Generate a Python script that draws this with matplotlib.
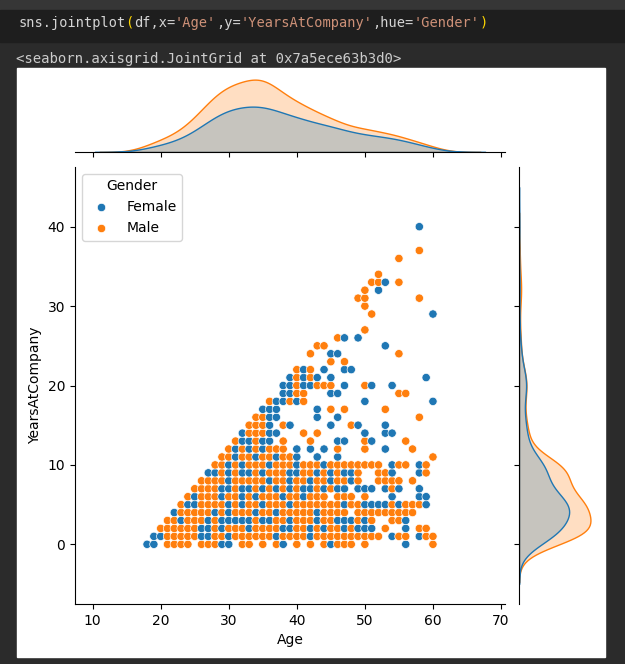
import matplotlib
matplotlib.use('agg')
import matplotlib.pyplot as plt
from matplotlib.patches import Rectangle
import numpy as np
import pandas as pd
import seaborn as sns

W, H = 625, 664

# notebook cell text
code_parts = ["sns.jointplot", "(", "df,x=", "'Age'", ",y=", "'YearsAtCompany'",
              ",hue=", "'Gender'", ")"]
code_colors = ['#d4d4d4', '#ffd700', '#d4d4d4', '#ce9178', '#d4d4d4', '#ce9178',
               '#d4d4d4', '#ce9178', '#ffd700']
out_text = "<seaborn.axisgrid.JointGrid at 0x7a5ece63b3d0>"

hue_levels = ['Female', 'Male']

# marginal counts (age 18..60)
age_values = list(range(18, 61))
female_age_counts = [3, 3, 4, 5, 6, 5, 9, 10, 15, 18, 18, 27, 24, 27, 24, 23, 30, 28, 27, 20, 23, 17,
                     24, 16, 19, 13, 14, 18, 15, 11, 8, 10, 13, 8, 8, 8, 8, 10, 6, 2, 6, 4, 2]
male_age_counts = [5, 6, 7, 8, 10, 9, 17, 16, 24, 30, 30, 41, 36, 42, 37, 35, 47, 50, 42, 30, 35, 25,
                   33, 24, 27, 19, 19, 23, 18, 13, 11, 14, 17, 11, 10, 11, 10, 12, 8, 2, 8, 6, 3]

# marginal counts (years at company 0..40)
years_values = list(range(0, 41))
female_years_counts = [16, 58, 48, 51, 50, 88, 30, 35, 28, 30, 44, 14, 7, 11, 8, 9, 6, 4, 6, 5, 14,
                       7, 7, 1, 3, 2, 2, 0, 0, 1, 0, 0, 1, 1, 0, 0, 0, 0, 0, 0, 1]
male_years_counts = [28, 113, 79, 77, 60, 108, 46, 55, 52, 52, 76, 18, 7, 13, 10, 11, 6, 5, 7, 6, 13,
                     7, 8, 1, 3, 2, 2, 2, 0, 1, 1, 3, 2, 4, 1, 0, 2, 1, 0, 0, 0]

# scatter cells: ages present for each YearsAtCompany value (index = years)
female_by_year = [
    [18, 19, 29, 30, 38, 45, 56],
    [19, 20, 26, 27, 30, 37, 42, 54, 58],
    [26, 27, 29, 33, 38, 39, 42, 44, 47, 49, 50, 51, 56],
    [23, 27, 29, 30, 31, 32, 33, 35, 36, 39, 43, 46, 47, 48, 50, 56],
    [22, 28, 30, 34, 37, 43],
    [24, 25, 30, 32, 35, 39, 47, 50, 51, 52, 53, 55, 59],
    [25, 29, 32, 34, 38, 41, 54, 58, 59],
    [29, 30, 32, 33, 35, 37, 39, 41, 42, 44, 46, 47, 49, 50, 51, 53, 55, 58],
    [30, 36, 39, 42, 45, 48],
    [27, 28, 30, 32, 33, 35, 39, 40, 43, 45, 47, 48, 54, 58],
    [30, 32, 36, 40, 44, 54, 58],
    [31, 34, 37, 40, 43, 46],
    [31, 33, 35, 40, 42, 44, 53],
    [32, 33, 35, 36, 46, 47, 51],
    [32, 36, 37, 50, 53, 54],
    [36, 39, 45, 49, 53],
    [36, 37, 43, 46],
    [35, 36, 37, 43],
    [37, 38, 40, 50, 60],
    [38, 39, 45, 46],
    [38, 39, 41, 42, 47, 51, 54],
    [39, 41, 43, 45, 59],
    [41, 44, 47, 48],
    [],
    [45, 46],
    [53],
    [47, 49],
    [],
    [],
    [60],
    [],
    [],
    [52],
    [53],
    [],
    [],
    [],
    [],
    [],
    [],
    [58],
]
male_by_year = [
    [21, 22, 23, 24, 26, 27, 28, 32, 33, 35, 37, 40, 42, 44, 46, 47, 48, 50, 60],
    [21, 22, 23, 24, 25, 28, 29, 31, 32, 33, 34, 35, 36, 38, 39, 40, 41, 43, 44, 45, 46, 47, 48, 49,
     50, 51, 52, 55, 56, 59, 60],
    [20, 21, 22, 23, 24, 25, 28, 30, 31, 32, 34, 35, 36, 37, 40, 41, 43, 45, 46, 48, 53, 58, 59],
    [21, 22, 24, 25, 26, 28, 34, 37, 38, 40, 41, 42, 44, 45, 49, 51, 54, 55],
    [23, 24, 25, 26, 27, 29, 31, 32, 33, 35, 36, 38, 39, 40, 41, 42, 44, 45, 46, 47, 49, 50, 51, 52,
     53, 54, 55, 56, 57],
    [23, 26, 27, 28, 29, 31, 33, 34, 36, 37, 38, 40, 41, 42, 43, 44, 45, 46, 48, 49, 54, 56, 57, 58],
    [24, 26, 27, 28, 30, 31, 33, 35, 36, 37, 39, 40, 42, 43, 44, 46, 47, 48, 50],
    [25, 26, 27, 28, 31, 34, 36, 38, 40, 43, 45, 54],
    [26, 27, 28, 29, 31, 32, 33, 34, 35, 37, 38, 40, 41, 43, 44, 46, 47, 49, 52, 53, 54, 55, 57],
    [29, 31, 34, 36, 37, 38, 41, 42, 44, 46, 49, 52, 53, 59],
    [28, 29, 31, 33, 34, 35, 37, 38, 39, 41, 42, 43, 45, 46, 47, 48, 49, 50, 51, 52, 55, 56, 59],
    [29, 30, 32, 33, 35, 36, 38, 39, 60],
    [30, 32, 34, 36, 37, 38, 46, 50, 57],
    [31, 34, 38, 42, 50, 56],
    [33, 34, 35, 41, 43],
    [33, 34, 35, 38, 48],
    [34, 35, 58],
    [45, 47, 53],
    [36, 39, 41],
    [40, 41, 55, 56],
    [40, 43, 44, 45, 50],
    [40, 42],
    [40, 42],
    [45, 47],
    [42, 55],
    [43, 44],
    [46],
    [50],
    [],
    [51],
    [50],
    [49, 50, 58],
    [50],
    [51, 52, 55],
    [52],
    [],
    [55],
    [58],
    [],
    [],
    [],
]

# build frames
rows = []
for yr in range(len(female_by_year)):
    for a in sorted(female_by_year[yr] + male_by_year[yr]):
        g = 'Female' if a in female_by_year[yr] else 'Male'
        rows.append((a, yr, g))
pts = pd.DataFrame(rows, columns=['Age', 'YearsAtCompany', 'Gender'])

age_df = pd.DataFrame({
    'Age': np.concatenate([np.repeat(age_values, female_age_counts),
                           np.repeat(age_values, male_age_counts)]),
    'Gender': ['Female'] * sum(female_age_counts) + ['Male'] * sum(male_age_counts)})
yrs_df = pd.DataFrame({
    'YearsAtCompany': np.concatenate([np.repeat(years_values, female_years_counts),
                                      np.repeat(years_values, male_years_counts)]),
    'Gender': ['Female'] * sum(female_years_counts) + ['Male'] * sum(male_years_counts)})


def px_rect(x0, y0, x1, y1):
    return [x0 / W, 1 - y1 / H, (x1 - x0) / W, (y1 - y0) / H]


fig = plt.figure(figsize=(W / 100, H / 100), dpi=100, facecolor='#2b2b2b')

# notebook chrome
fig.patches.append(Rectangle((0, 1 - 10 / H), 1, 10 / H, transform=fig.transFigure,
                             color='#363636', zorder=-5))
fig.patches.append(Rectangle((0, 1 - 42 / H), 1, 32 / H, transform=fig.transFigure,
                             color='#1e1e1e', zorder=-5))
fig.patches.append(Rectangle((17 / W, 1 - 657 / H), 588 / W, 589 / H, transform=fig.transFigure,
                             color='white', zorder=-5))

cw = 8.23
i = 0
for part, col in zip(code_parts, code_colors):
    fig.text((18.5 + i * cw) / W, 1 - 23 / H, part, color=col, family='DejaVu Sans Mono',
             size=9.85, va='center', ha='left')
    i += len(part)
fig.text(16.5 / W, 1 - 58.5 / H, out_text, color='#cccccc', family='DejaVu Sans Mono',
         size=10.05, va='center', ha='left')

ax_joint = fig.add_axes(px_rect(75, 167, 505, 604))
ax_mx = fig.add_axes(px_rect(75, 76, 505, 152), sharex=ax_joint)
ax_my = fig.add_axes(px_rect(519, 167, 594, 604), sharey=ax_joint)

sns.scatterplot(data=pts, x='Age', y='YearsAtCompany', hue='Gender', hue_order=hue_levels,
                ax=ax_joint)
sns.kdeplot(data=age_df, x='Age', hue='Gender', hue_order=hue_levels, fill=True,
            common_norm=True, legend=False, ax=ax_mx)
sns.kdeplot(data=yrs_df, y='YearsAtCompany', hue='Gender', hue_order=hue_levels, fill=True,
            common_norm=True, legend=False, ax=ax_my)

sns.move_legend(ax_joint, 'upper left')

for s in ['top', 'right']:
    ax_joint.spines[s].set_visible(False)
for s in ['top', 'right', 'left']:
    ax_mx.spines[s].set_visible(False)
for s in ['top', 'right', 'bottom']:
    ax_my.spines[s].set_visible(False)
ax_mx.tick_params(labelbottom=False, left=False, labelleft=False)
ax_my.tick_params(labelleft=False, bottom=False, labelbottom=False)
ax_mx.set_xlabel('')
ax_mx.set_ylabel('')
ax_my.set_xlabel('')
ax_my.set_ylabel('')
ax_mx.set_facecolor('none')
ax_my.set_facecolor('none')
ax_joint.set_facecolor('none')

fig.savefig('out.png', dpi=100, facecolor=fig.get_facecolor())
